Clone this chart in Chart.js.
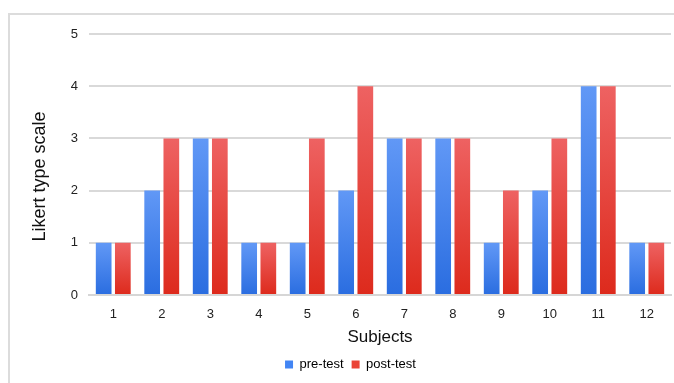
<!DOCTYPE html>
<html>
<head>
<meta charset="utf-8">
<script src="https://cdn.jsdelivr.net/npm/chart.js@4"></script>
<style>
  html, body { margin: 0; padding: 0; background: #fff; }
  #wrap { position: relative; width: 674px; height: 383px; }
  #frame { position: absolute; left: 8px; top: 13px; right: 0; bottom: 0;
           border-left: 2px solid #dcdcdc; border-top: 2px solid #dcdcdc; }
  canvas { position: absolute; left: 0; top: 0; }
</style>
</head>
<body>
<div id="wrap">
  <div id="frame"></div>
  <canvas id="c" width="674" height="383"></canvas>
</div>
<script>
const subjects = ['1', '2', '3', '4', '5', '6', '7', '8', '9', '10', '11', '12'];
const preTest  = [1, 2, 3, 1, 1, 2, 3, 3, 1, 2, 4, 1];
const postTest = [1, 3, 3, 1, 3, 4, 3, 3, 2, 3, 4, 1];
const yTicks   = [0, 1, 2, 3, 4, 5];
const yTitle   = 'Likert type scale';

const FONT = '"Liberation Sans", Arial, sans-serif';

// vertical gradient from the top of each bar down to the baseline
function barGradient(top, bottom, flat) {
  return function (ctx) {
    const chart = ctx.chart;
    const y = chart.scales && chart.scales.y;
    if (!chart.chartArea || !y || ctx.parsed === undefined) return flat;
    const y0 = y.getPixelForValue(ctx.parsed.y);
    const y1 = y.getPixelForValue(0);
    if (!isFinite(y0) || !isFinite(y1) || y0 === y1) return flat;
    const g = chart.ctx.createLinearGradient(0, y0, 0, y1);
    g.addColorStop(0, top);
    g.addColorStop(1, bottom);
    return g;
  };
}

// rotated value-axis title, placed a little below the plot's middle
const yTitlePlugin = {
  id: 'yTitle',
  afterDraw(chart) {
    const { ctx, chartArea } = chart;
    ctx.save();
    ctx.translate(40, (chartArea.top + chartArea.bottom) / 2 + 12);
    ctx.rotate(-Math.PI / 2);
    ctx.fillStyle = '#111';
    ctx.font = '18px ' + FONT;
    ctx.textAlign = 'center';
    ctx.textBaseline = 'middle';
    ctx.fillText(yTitle, 0, 0);
    ctx.restore();
  }
};

new Chart(document.getElementById('c'), {
  type: 'bar',
  data: {
    labels: subjects,
    datasets: [
      {
        label: 'pre-test',
        data: preTest,
        backgroundColor: barGradient('#6198f6', '#2a6de0', '#4285f4'),
        categoryPercentage: 0.79,
        barPercentage: 0.82
      },
      {
        label: 'post-test',
        data: postTest,
        backgroundColor: barGradient('#ee6262', '#dd2a1c', '#ea4335'),
        categoryPercentage: 0.79,
        barPercentage: 0.82
      }
    ]
  },
  plugins: [yTitlePlugin],
  options: {
    responsive: false,
    animation: false,
    devicePixelRatio: 1,
    layout: { padding: { top: 34, right: 3, left: 30, bottom: 2 } },
    plugins: {
      legend: {
        position: 'bottom',
        labels: {
          boxWidth: 8,
          boxHeight: 8,
          padding: 8,
          color: '#222',
          font: { family: FONT, size: 13 },
          generateLabels(chart) {
            return chart.data.datasets.map((ds, i) => ({
              text: ds.label,
              fillStyle: i === 0 ? '#4285f4' : '#ea4335',
              strokeStyle: 'transparent',
              lineWidth: 0,
              datasetIndex: i
            }));
          }
        }
      },
      tooltip: { enabled: false }
    },
    scales: {
      x: {
        grid: { display: false, drawTicks: false },
        border: { display: true, color: '#d6d6d6', width: 2 },
        ticks: { color: '#222', font: { family: FONT, size: 13 }, padding: 12 },
        title: {
          display: true, text: 'Subjects', color: '#111',
          font: { family: FONT, size: 17 }, padding: { top: 4, bottom: 2 }
        },
        afterFit(scale) { scale.height = 55; }
      },
      y: {
        min: 0, max: 5,
        afterBuildTicks(scale) { scale.ticks = yTicks.map(v => ({ value: v })); },
        grid: { color: '#d9d9d9', lineWidth: 2, drawTicks: false },
        border: { display: false },
        ticks: { color: '#222', font: { family: FONT, size: 13 }, padding: 11 },
        afterFit(scale) { scale.width = 59; }
      }
    }
  }
});
</script>
</body>
</html>
